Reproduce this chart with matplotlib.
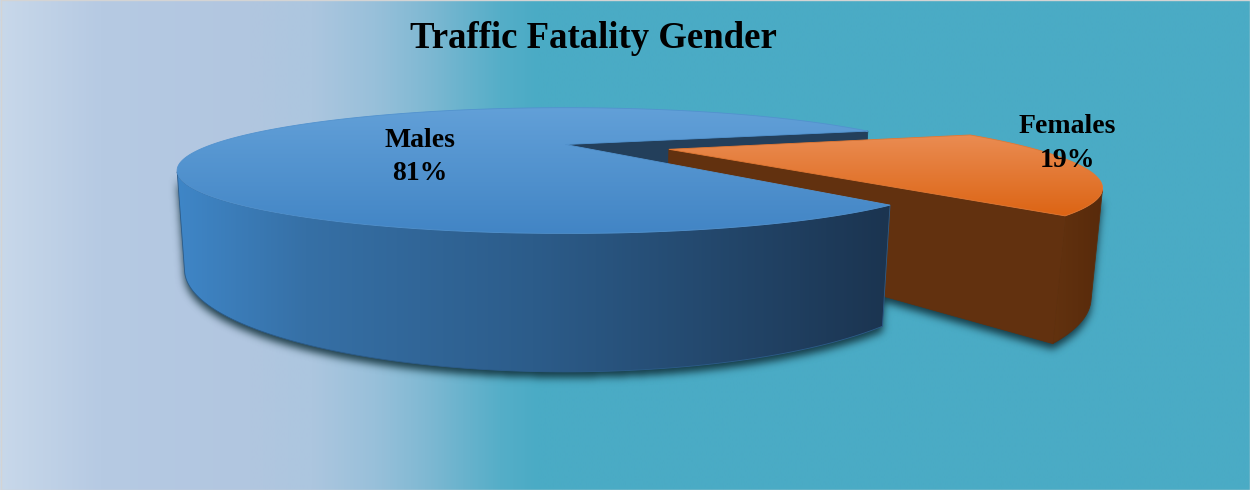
import numpy as np
import matplotlib
matplotlib.use("Agg")
import matplotlib.pyplot as plt
from matplotlib.patches import Polygon, Rectangle
from matplotlib.colors import LinearSegmentedColormap, to_rgb
from matplotlib.path import Path

plt.rcParams['font.family'] = ['Liberation Serif', 'DejaVu Serif']

title = "Traffic Fatality Gender"
labels = ["Males", "Females"]
shares = [81, 19]
explode = [0.0, 0.2957]

W, H = 1250, 490

# perspective camera for the 3-D pie, output in pixel space
CX, CY = 565.4, 144.5
FOCAL = 810.8
DIST = 2.383
ELEV = 0.1537
YAW = 0.0153
THICK = 0.2518
XSTRETCH = 1.0385
START = -0.3067  # first slice drawn from here is Females, Males gets the rest

camPos = DIST * np.array([np.sin(YAW) * np.cos(ELEV), np.sin(ELEV), np.cos(YAW) * np.cos(ELEV)])
camFwd = -camPos / DIST
camRight = np.array([np.cos(YAW), 0.0, -np.sin(YAW)])
camUp = np.cross(camRight, camFwd)


def project(P):
    v = np.atleast_2d(P) - camPos
    z = v @ camFwd
    return np.column_stack([CX + FOCAL * XSTRETCH * (v @ camRight) / z, CY - FOCAL * (v @ camUp) / z])


def rimPts(t, y0):
    t = np.atleast_1d(t)
    return np.stack([np.cos(t), np.full_like(t, y0), np.sin(t)], axis=1)


def sliceParts(t0, t1, off):
    mid = 0.5 * (t0 + t1)
    E = off * np.array([np.cos(mid), 0.0, np.sin(mid)])
    down = np.array([0.0, -THICK, 0.0])
    t = np.linspace(t0, t1, 500)
    top = project(np.vstack([E, rimPts(t, 0) + E]))
    bottom = project(np.vstack([E + down, rimPts(t, -THICK) + E]))

    # outer wall: keep only the part turned towards the camera
    normals = rimPts(t, 0)
    facing = np.einsum('ij,ij->i', normals, camPos - (normals + E)) > 0
    side = None
    if facing.any():
        tv = t[facing]
        side = np.vstack([project(rimPts(tv, 0) + E), project(rimPts(tv, -THICK) + E)[::-1]])

    walls = []
    for ta, sgn in ((t0, -1), (t1, 1)):
        n = sgn * np.array([-np.sin(ta), 0.0, np.cos(ta)])
        a = E
        b = rimPts(ta, 0)[0] + E
        if n @ (camPos - (a + b + down) / 2) > 0:
            walls.append(project(np.array([a, b, b + down, a + down])))
    return top, bottom, side, walls


def gradFill(ax, pts, stops, horizontal=True, zorder=2):
    poly = Polygon(pts, closed=True, facecolor='none', edgecolor='none', zorder=zorder)
    ax.add_patch(poly)
    cmap = LinearSegmentedColormap.from_list('g', stops)
    data = np.linspace(0, 1, 256)[None, :] if horizontal else np.linspace(0, 1, 256)[:, None]
    x0, x1 = pts[:, 0].min(), pts[:, 0].max()
    y0, y1 = pts[:, 1].min(), pts[:, 1].max()
    im = ax.imshow(data, cmap=cmap, extent=(x0, x1, y1, y0), aspect='auto',
                   interpolation='bilinear', zorder=zorder)
    im.set_clip_path(poly)
    # thin outline in the mean colour softens the clipped edge
    ax.add_patch(Polygon(pts, closed=True, facecolor='none',
                         edgecolor=cmap(0.5), lw=0.6, zorder=zorder))


def blur(a, sigma):
    r = int(3 * sigma)
    k = np.exp(-0.5 * (np.arange(-r, r + 1) / sigma) ** 2)
    k /= k.sum()
    a = np.apply_along_axis(lambda m: np.convolve(m, k, mode='same'), 0, a)
    return np.apply_along_axis(lambda m: np.convolve(m, k, mode='same'), 1, a)


fig = plt.figure(figsize=(12.5, 4.9), dpi=100)
ax = fig.add_axes([0, 0, 1, 1])

# background wash, pale blue on the left fading into teal
bgStops = [(0.0, '#c8d8ea'), (0.08, '#b6cae3'), (0.2, '#b1c6e0'), (0.25, '#acc6df'),
           (0.3, '#98c0da'), (0.34, '#80b9d3'), (0.37, '#6ab3cd'), (0.4, '#55aec8'),
           (0.43, '#4aabc5'), (1.0, '#4aabc5')]
ax.imshow(np.linspace(0, 1, 1024)[None, :], cmap=LinearSegmentedColormap.from_list('bg', bgStops, N=1024),
          extent=(0, W, H, 0), aspect='auto', interpolation='bilinear', zorder=0)

spans = 2 * np.pi * np.array(shares) / np.sum(shares)
angleRange = {1: (START, START + spans[1]), 0: (START + spans[1], START + 2 * np.pi)}
parts = {i: sliceParts(*angleRange[i], explode[i]) for i in range(len(shares))}

# soft drop shadow under both slices
yy, xx = np.mgrid[0:H, 0:W] + 0.5
grid = np.column_stack([xx.ravel(), yy.ravel()])
mask = np.zeros(H * W)
for i, (top, bottom, side, walls) in parts.items():
    for shape in [bottom] + ([side] if side is not None else []):
        mask = np.maximum(mask, Path(shape + [0, 6]).contains_points(grid))
mask = blur(mask.reshape(H, W), 4.0)
shadow = np.zeros((H, W, 4))
shadow[..., :3] = to_rgb('#10303a')
shadow[..., 3] = np.clip(mask, 0, 1) * 0.9
ax.imshow(shadow, extent=(0, W, H, 0), aspect='auto', interpolation='bilinear', zorder=1)

style = {
    0: dict(top=['#62a0d8', '#4285c5'],
            side=[(0.0, '#3f86c7'), (0.18, '#3670a6'), (0.5, '#2c5c8a'), (1.0, '#1b3450')],
            wall='#233f5b'),
    1: dict(top=['#ea8c52', '#dc6414'],
            side=[(0.0, '#62320f'), (1.0, '#582a0b')],
            wall='#62310f'),
}

# Males cut face sits behind the exploded slice
for w in parts[0][3]:
    ax.add_patch(Polygon(w, closed=True, facecolor=style[0]['wall'], edgecolor=style[0]['wall'], lw=0.6, zorder=3))

z = 4
for i in (1, 0):
    top, bottom, side, walls = parts[i]
    if side is not None:
        gradFill(ax, side, style[i]['side'], horizontal=True, zorder=z)
    if i == 1:
        for w in walls:
            ax.add_patch(Polygon(w, closed=True, facecolor=style[i]['wall'], edgecolor=style[i]['wall'], lw=0.6, zorder=z + 1))
    gradFill(ax, top, style[i]['top'], horizontal=False, zorder=z + 2)
    z += 3

ax.text(593, 48.5, title, ha='center', va='baseline', fontsize=26.5, fontweight='bold', zorder=20)

labelPos = [(420, 146.7, 180.0), (1067.5, 133.3, 166.7)]
for name, share, (lx, y1, y2) in zip(labels, shares, labelPos):
    ax.text(lx, y1, name, ha='center', va='baseline', fontsize=20, fontweight='bold', zorder=20)
    ax.text(lx, y2, "%d%%" % share, ha='center', va='baseline', fontsize=20, fontweight='bold', zorder=20)

ax.add_patch(Rectangle((0.5, 0.5), W - 1, H - 1, facecolor='none', edgecolor='#d4d4d4', lw=1, zorder=21))

ax.set_xlim(0, W)
ax.set_ylim(H, 0)
ax.axis('off')
fig.savefig("out.png", dpi=100)
